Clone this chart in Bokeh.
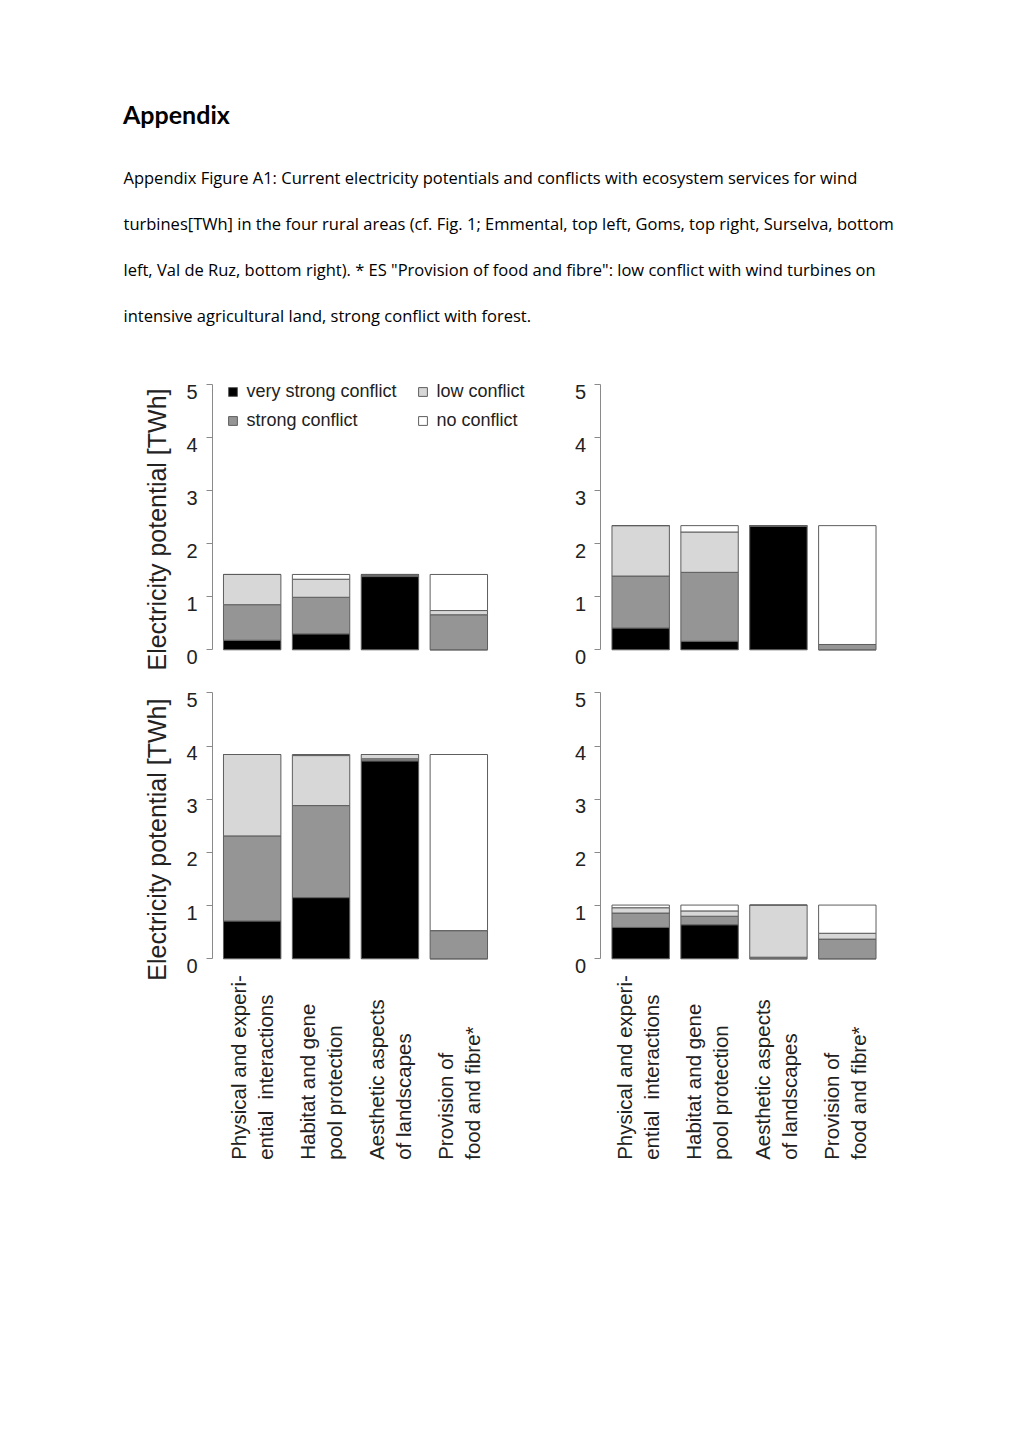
from math import pi

from bokeh.core.properties import value
from bokeh.embed import file_html
from bokeh.models import (ColumnDataSource, FixedTicker, Legend, LegendItem,
                          LinearAxis, Range1d)
from bokeh.plotting import figure
from bokeh.resources import INLINE

# ---------------------------------------------------------------- data
class_keys = ["very_strong", "strong", "low", "none"]
class_labels = ["very strong conflict", "strong conflict", "low conflict", "no conflict"]

cat_line1 = ["Physical and experi-", "Habitat and gene", "Aesthetic aspects", "Provision of"]
cat_line2 = ["ential \u00a0interactions", "pool protection", "of landscapes", "food and fibre*"]

y_ticks = [0, 1, 2, 3, 4, 5]
y_title = "Electricity potential [TWh]"

# Emmental (top left)
emmental_very_strong = [0.18, 0.30, 1.38, 0.00]
emmental_strong = [0.67, 0.69, 0.03, 0.66]
emmental_low = [0.57, 0.34, 0.01, 0.08]
emmental_none = [0.00, 0.09, 0.00, 0.68]

# Goms (top right)
goms_very_strong = [0.41, 0.16, 2.33, 0.00]
goms_strong = [0.98, 1.30, 0.01, 0.10]
goms_low = [0.95, 0.76, 0.00, 0.00]
goms_none = [0.00, 0.12, 0.00, 2.24]

# Surselva (bottom left)
surselva_very_strong = [0.71, 1.15, 3.72, 0.00]
surselva_strong = [1.60, 1.73, 0.04, 0.53]
surselva_low = [1.53, 0.94, 0.08, 0.00]
surselva_none = [0.00, 0.02, 0.00, 3.31]

# Val de Ruz (bottom right)
valderuz_very_strong = [0.59, 0.64, 0.00, 0.00]
valderuz_strong = [0.27, 0.16, 0.03, 0.37]
valderuz_low = [0.10, 0.10, 0.98, 0.11]
valderuz_none = [0.05, 0.11, 0.00, 0.53]

title_text = "Appendix"
caption_lines = [
    "Appendix Figure A1: Current electricity potentials and conflicts with ecosystem services for wind",
    "turbines[TWh] in the four rural areas (cf. Fig. 1; Emmental, top left, Goms, top right, Surselva, bottom",
    "left, Val de Ruz, bottom right). * ES \"Provision of food and fibre\": low conflict with wind turbines on",
    "intensive agricultural land, strong conflict with forest.",
]

# ---------------------------------------------------------------- style / page geometry
FONT = "Liberation Sans"
TXT = "#222222"
class_colors = ["#000000", "#959595", "#d7d7d7", "#ffffff"]
bar_line = "#5e5e5e"
axis_col = "#8a8a8a"

W, H = 1020, 1180

# R barplot midpoints: width 1, space 0.2
bar_x = [0.7 + 1.2 * i for i in range(len(cat_line1))]

p = figure(width=W, height=H, x_range=Range1d(0, W), y_range=Range1d(H, 0),
           x_axis_location=None, y_axis_location=None,
           output_backend="svg", toolbar_location=None,
           min_border_left=0, min_border_right=0, min_border_top=0, min_border_bottom=0)
p.outline_line_color = None
p.background_fill_color = "white"
p.border_fill_color = "white"
p.grid.visible = False

# header text (page coordinates)
p.text(x=[122.5], y=[113], text=[title_text], text_font=value("Lato"),
       text_font_style="bold", text_font_size="25px", text_color="#000000",
       text_align="left", text_baseline="alphabetic")
p.text(x=[123] * len(caption_lines), y=[176.5 + 46 * i for i in range(len(caption_lines))],
       text=caption_lines, text_font=value("Open Sans"), text_font_size="16.5px",
       text_color="#000000", text_align="left", text_baseline="alphabetic")


def add_panel(name, x0, y0, sx, sy, vs, st, lo, no,
              title_y=None, legend=False, cats=False, cat_shift=0.0):
    xr, yr = name + "_x", name + "_y"
    # map panel data units onto the page: value 0 at (x0, y0), sx / sy px per unit
    p.extra_x_ranges[xr] = Range1d(-x0 / sx, (W - x0) / sx)
    p.extra_y_ranges[yr] = Range1d((y0 - H) / sy, y0 / sy)
    kw = dict(x_range_name=xr, y_range_name=yr)

    ax = LinearAxis(x_range_name=xr, y_range_name=yr, fixed_location=0, bounds=(0, 5),
                    ticker=FixedTicker(ticks=y_ticks),
                    major_label_overrides={t: "" for t in y_ticks},
                    major_label_text_font_size="1px",
                    axis_line_color=axis_col, major_tick_line_color=axis_col,
                    major_tick_out=6, major_tick_in=0, minor_tick_out=0, minor_tick_in=0)
    p.add_layout(ax, "left")

    src = ColumnDataSource(dict(x=bar_x, very_strong=vs, strong=st, low=lo, none=no))
    rs = p.vbar_stack(class_keys, x="x", width=1.0, source=src,
                      fill_color=class_colors, line_color=bar_line, line_width=1, **kw)

    # tick labels (sit slightly below their ticks, as in the original)
    p.text(x=[0] * len(y_ticks), y=[t - 7 / sy for t in y_ticks],
           text=[str(t) for t in y_ticks], x_offset=-14.5,
           text_align="right", text_baseline="middle",
           text_font=value(FONT), text_font_size="20px", text_color=TXT, **kw)

    if title_y is not None:
        p.text(x=[0], y=[title_y], text=[y_title], x_offset=-55.5, angle=pi / 2,
               text_align="center", text_baseline="alphabetic",
               text_font=value(FONT), text_font_size="25px", text_color=TXT, **kw)

    if cats:
        for lines, off in ((cat_line1, -13.5), (cat_line2, 13.5)):
            p.text(x=bar_x, y=[-201 / sy] * len(lines), text=lines,
                   x_offset=off + cat_shift, angle=pi / 2,
                   text_align="left", text_baseline="middle",
                   text_font=value(FONT), text_font_size="20.5px", text_color=TXT, **kw)

    if legend:
        items = [LegendItem(label=class_labels[i], renderers=[rs[i]]) for i in range(4)]
        lg = Legend(items=items, location=(x0 + 15, H - 431.2),
                    orientation="vertical", nrows=2,
                    padding=0, margin=0, spacing=8,
                    glyph_width=11, glyph_height=11, label_standoff=9,
                    label_width=162, label_height=21,
                    label_text_font=FONT, label_text_font_size="18px",
                    label_text_color=TXT,
                    border_line_color=None, background_fill_alpha=0)
        p.add_layout(lg)


add_panel("emmental", 211.5, 649.3, 57.4, 53.06,
          emmental_very_strong, emmental_strong, emmental_low, emmental_none,
          title_y=2.267, legend=True)
add_panel("goms", 600.0, 649.3, 57.4, 53.06,
          goms_very_strong, goms_strong, goms_low, goms_none)
add_panel("surselva", 211.5, 958.3, 57.4, 53.2,
          surselva_very_strong, surselva_strong, surselva_low, surselva_none,
          title_y=2.24, cats=True)
add_panel("valderuz", 600.0, 958.3, 57.4, 53.2,
          valderuz_very_strong, valderuz_strong, valderuz_low, valderuz_none,
          cats=True, cat_shift=-2.5)

open("out.html", "w").write(file_html(p, INLINE))
